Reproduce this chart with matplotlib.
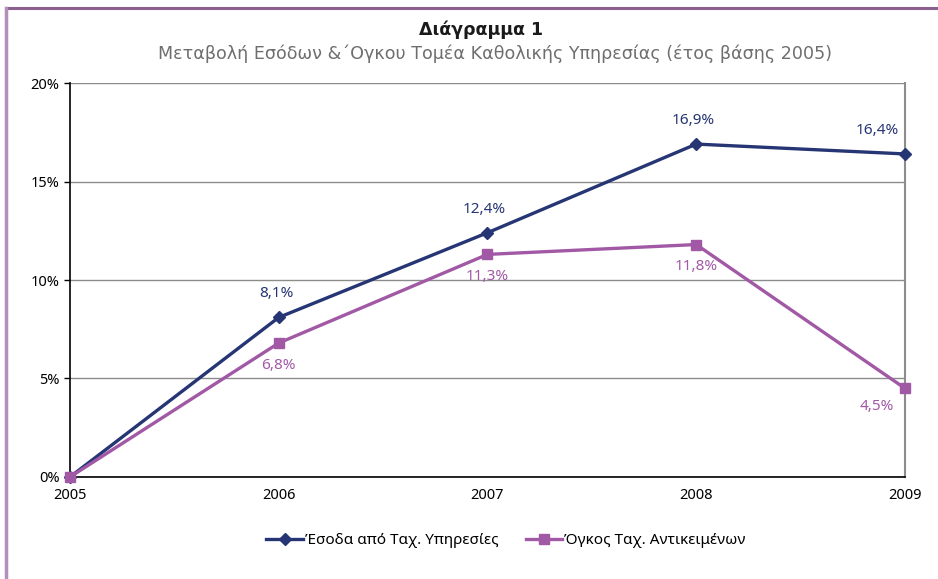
import matplotlib.pyplot as plt
from matplotlib.lines import Line2D

years = [2005, 2006, 2007, 2008, 2009]
revenue = [0.0, 8.1, 12.4, 16.9, 16.4]
volume = [0.0, 6.8, 11.3, 11.8, 4.5]
rev_label = 'Έσοδα από Ταχ. Υπηρεσίες'
vol_label = 'Όγκος Ταχ. Αντικειμένων'

navy = '#263574'
purple = '#a159a6'

plt.rcParams['font.family'] = ['Noto Sans', 'DejaVu Sans']

fig = plt.figure(figsize=(9.38, 5.79), dpi=100)
ax = fig.add_axes([0.0746, 0.1762, 0.8902, 0.6804])

x = list(range(len(years)))
ax.plot(x, revenue, '-D', color=navy, lw=2.4, ms=6.5, label=rev_label, zorder=3, clip_on=False)
ax.plot(x, volume, '-s', color=purple, lw=2.4, ms=7.5, label=vol_label, zorder=3, clip_on=False)

def fmt(v):
    return f'{v:.1f}%'.replace('.', ',')

# data labels: series 1 above, series 2 below
last = len(x) - 1
for i in range(1, len(x)):
    dx = -20 if i == last else -2
    ax.annotate(fmt(revenue[i]), (x[i], revenue[i]), xytext=(dx, 17),
                textcoords='offset points', ha='center', va='center',
                color=navy, fontsize=11)
    ax.annotate(fmt(volume[i]), (x[i], volume[i]), xytext=(dx if i == last else 0, -13 if i == last else -16),
                textcoords='offset points', ha='center', va='center',
                color=purple, fontsize=11)

ax.set_xlim(0, 4)
ax.set_ylim(0, 20)
ax.set_xticks(x)
ax.set_xticklabels([str(y) for y in years])
ax.set_yticks([0, 5, 10, 15, 20])
ax.set_yticklabels(['0%', '5%', '10%', '15%', '20%'])
ax.tick_params(axis='y', length=4, width=1, labelsize=10.5)
ax.tick_params(axis='x', length=0, pad=8, labelsize=10.5)
ax.yaxis.grid(True, color='#8c8c8c', lw=1)
ax.set_axisbelow(True)
for s in ['left', 'bottom']:
    ax.spines[s].set_color('black')
    ax.spines[s].set_linewidth(1.2)
ax.spines['right'].set_color('#8c8c8c')
ax.spines['right'].set_linewidth(1.5)
ax.spines['top'].set_visible(False)

fig.text(0.513, 0.948, 'Διάγραμμα 1', ha='center', va='center',
         fontsize=12.5, fontweight='bold', color='#1a1a1a', family='DejaVu Sans')
fig.text(0.528, 0.908, 'Μεταβολή Εσόδων &΄Ογκου Τομέα Καθολικής Υπηρεσίας (έτος βάσης 2005)',
         ha='center', va='center', fontsize=12.6, color='#6e6e6e', family='DejaVu Sans')

ax.legend(loc='center', bbox_to_anchor=(0.522, -0.162), ncol=2, frameon=False,
          fontsize=11, handlelength=2.4, handletextpad=0.1, columnspacing=1.8)

# purple frame lines
fig.add_artist(Line2D([0.006, 1.0], [0.987, 0.987], color='#8b5f90', lw=2.2))
fig.add_artist(Line2D([0.0065, 0.0065], [0.0, 0.987], color='#b48fbb', lw=2.5))

fig.savefig('out.png', dpi=100)
